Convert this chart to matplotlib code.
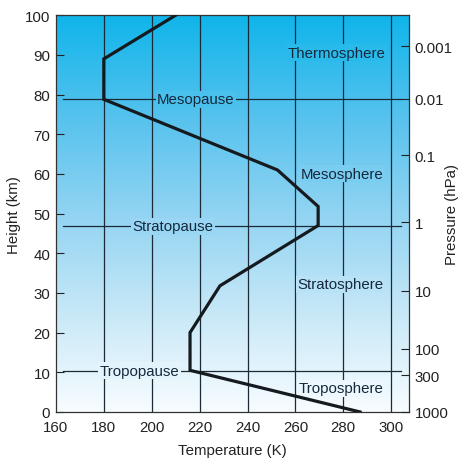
import numpy as np
import matplotlib
matplotlib.use("Agg")
import matplotlib.pyplot as plt
from matplotlib.colors import LinearSegmentedColormap

plt.rcParams['font.family'] = ['Liberation Sans', 'DejaVu Sans']

# temperature profile (K) vs height (km)
temp_k = [287, 216, 216, 228.5, 269.5, 269.5, 252.5, 180, 180, 210]
height_km = [0, 10.5, 20, 31.8, 47, 51.8, 61, 78.8, 89, 100]

# pressure axis (hPa) at height
pressure_labels = ['0.001', '0.01', '0.1', '1', '10', '100', '300', '1000']
pressure_heights = [92.2, 79.0, 64.7, 47.8, 30.5, 15.9, 9.3, 0]

# pause lines
pause_names = ['Mesopause', 'Stratopause', 'Tropopause']
pause_heights = [78.8, 46.8, 10.4]
pause_label_x = [218.5, 209, 195]

# layer names
layer_names = ['Thermosphere', 'Mesosphere', 'Stratosphere', 'Troposphere']
layer_x = [277, 279.5, 279, 279]
layer_y = [90.5, 60, 32.2, 6.0]

xmin, xmax = 160, 307.5
ymin, ymax = 0, 100
txt_col = '#16283c'
line_col = '#1c2a38'
fs = 10.8

cmap = LinearSegmentedColormap.from_list('sky', [
    (0.0, (0.97, 0.99, 1.0)),
    (0.25, (0.78, 0.91, 0.97)),
    (0.5, (0.57, 0.83, 0.95)),
    (0.75, (0.33, 0.76, 0.93)),
    (1.0, (0.06, 0.71, 0.92)),
])

def bg(h):
    return cmap(h / 100.0)

fig = plt.figure(figsize=(4.66, 4.64), dpi=100)
ax = fig.add_axes([0.120, 0.110, 0.758, 0.855])

grad = np.linspace(0, 1, 256).reshape(-1, 1)
ax.imshow(grad, cmap=cmap, origin='lower', aspect='auto',
          extent=[xmin, xmax, ymin, ymax], zorder=0)

for t in range(180, 301, 20):
    ax.plot([t, t], [ymin, ymax], color=line_col, lw=0.9, zorder=1)

for name, h, lx in zip(pause_names, pause_heights, pause_label_x):
    ax.plot([163, 304], [h, h], color=line_col, lw=0.9, zorder=1)
    ax.text(lx, h, name, ha='center', va='center', fontsize=fs, color=txt_col,
            bbox=dict(boxstyle='square,pad=0.1', fc=bg(h), ec='none'), zorder=3)

for name, x, y in zip(layer_names, layer_x, layer_y):
    ax.text(x, y, name, ha='center', va='center', fontsize=fs, color=txt_col,
            bbox=dict(boxstyle='square,pad=0.1', fc=bg(y), ec='none'), zorder=3)

ax.plot(temp_k, height_km, color='#151a1e', lw=2.3, solid_joinstyle='miter', zorder=4)

ax.set_xlim(xmin, xmax)
ax.set_ylim(ymin, ymax)
ax.set_xticks(range(160, 301, 20))
ax.set_yticks(range(0, 101, 10))
ax.tick_params(axis='x', length=0, labelsize=fs, pad=6, colors='#222222')
ax.tick_params(axis='y', direction='in', length=6, labelsize=fs, pad=4, colors='#222222')
ax.set_xlabel('Temperature (K)', fontsize=fs, color='#222222', labelpad=6)
ax.set_ylabel('Height (km)', fontsize=fs, color='#222222', labelpad=3)
for s in ax.spines.values():
    s.set_color('#333333')
    s.set_linewidth(0.9)

ax2 = ax.twinx()
ax2.set_ylim(ymin, ymax)
ax2.set_yticks(pressure_heights)
ax2.set_yticklabels(pressure_labels)
ax2.tick_params(axis='y', direction='in', length=6, labelsize=fs, pad=4, colors='#222222')
ax2.set_ylabel('Pressure (hPa)', fontsize=fs, color='#222222', va='center')
ax2.yaxis.set_label_coords(1.122, 0.5)
for s in ax2.spines.values():
    s.set_visible(False)

fig.savefig('out.png', dpi=100)
